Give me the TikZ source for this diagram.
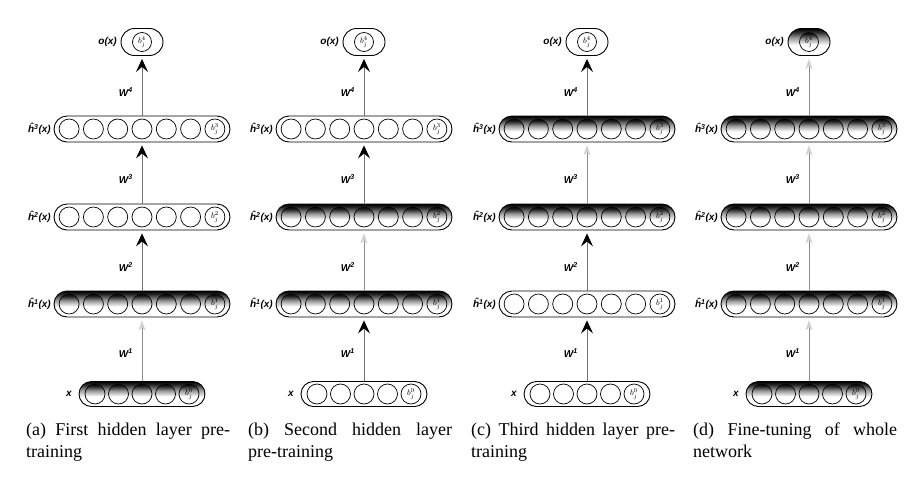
\documentclass[tikz,border=0pt]{standalone}
\usepackage{fontspec}
\setmainfont{Liberation Serif}
\newfontfamily\labfont{Liberation Sans}
\usetikzlibrary{shapes.misc,shapes.geometric,arrows.meta,calc}
\pgfdeclareverticalshading{dshade}{100bp}{color(0bp)=(white); color(25bp)=(white); color(44bp)=(white); color(58bp)=(black!40); color(69bp)=(black!85); color(75bp)=(black); color(100bp)=(black)}
\tikzset{
  layW/.style={rounded rectangle, draw, line width=0.9pt, minimum width=176pt, minimum height=26pt, inner sep=0pt, fill=white},
  layS/.style={layW, shading=dshade},
  xlayW/.style={layW, minimum width=126pt, minimum height=25pt},
  xlayS/.style={xlayW, shading=dshade},
  nodW/.style={circle, draw, line width=0.7pt, minimum size=20pt, inner sep=0pt, fill=white},
  nodS/.style={nodW, shading=dshade},
  outW/.style={rounded rectangle, draw, line width=0.9pt, minimum width=42pt, minimum height=27pt, inner sep=0pt, fill=white},
  outS/.style={outW, shading=dshade},
  arB/.style={draw=black!55, line width=0.7pt, shorten >=3pt, -{Stealth[length=13pt,width=12pt,inset=5pt,black]}},
  arG/.style={draw=black!45, line width=0.6pt, shorten >=3pt, -{Stealth[length=10pt,width=7pt,inset=3pt,black!18]}},
  lab/.style={font=\labfont\bfseries\itshape\fontsize{10}{12}\selectfont, inner sep=1pt},
  captext/.style={text width=204pt, align=justify, inner sep=0pt, font=\fontsize{18}{22}\selectfont}
}
\newcommand\bias[1]{{\fontsize{8.5}{8.5}\selectfont$b^{#1}_{j}$}}
\newcommand\setpanel[9]{\tikzset{sO/.style=out#1, uO/.style=nod#1,
  sH3/.style=lay#2, uH3/.style=nod#2, sH2/.style=lay#3, uH2/.style=nod#3,
  sH1/.style=lay#4, uH1/.style=nod#4, sX/.style=xlay#5, uX/.style=nod#5,
  aW4/.style=ar#6, aW3/.style=ar#7, aW2/.style=ar#8, aW1/.style=ar#9}}
% layer: name, cx, y, n, spacing, capsule style, unit style, bias text
\newcommand\mklayer[8]{%
  \node[#6] (#1) at (#2,#3) {};
  \foreach \i in {1,...,#4}{\node[#7] (#1-\i) at ({#2+(\i-(#4+1)/2)*#5},#3) {\ifnum\i=#4 #8\fi};}}
\newcommand\mkpanel[2]{% prefix, cx
  \node[sO] (#1-o) at (#2,42) {};
  \node[uO, minimum size=19pt] (#1-ob) at (#1-o) {\bias{4}};
  \mklayer{#1-h3}{#2}{129}{7}{24.3}{sH3}{uH3}{\bias{3}}
  \mklayer{#1-h2}{#2}{217}{7}{24.3}{sH2}{uH2}{\bias{2}}
  \mklayer{#1-h1}{#2}{304}{7}{24.3}{sH1}{uH1}{\bias{1}}
  \mklayer{#1-x}{#2}{394}{5}{23.5}{sX}{uX}{\bias{0}}
  \node[lab, anchor=east] (#1-lo) at (#2-24,42) {o(x)};
  \node[lab, anchor=east] (#1-l3) at (#2-90,129) {ĥ\textsuperscript{3}(x)};
  \node[lab, anchor=east] (#1-l2) at (#2-90,217) {ĥ\textsuperscript{2}(x)};
  \node[lab, anchor=east] (#1-l1) at (#2-90,304) {ĥ\textsuperscript{1}(x)};
  \node[lab, anchor=east] (#1-lx) at (#2-69,394) {x};
  \draw[aW4] (#1-h3.north) -- (#1-o.south);
  \draw[aW3] (#1-h2.north) -- (#1-h3.south);
  \draw[aW2] (#1-h1.north) -- (#1-h2.south);
  \draw[aW1] (#1-x.north) -- (#1-h1.south);
  \node[lab, anchor=east] (#1-w4) at (#2-8,92) {W\textsuperscript{4}};
  \node[lab, anchor=east] (#1-w3) at (#2-8,179) {W\textsuperscript{3}};
  \node[lab, anchor=east] (#1-w2) at (#2-8,267) {W\textsuperscript{2}};
  \node[lab, anchor=east] (#1-w1) at (#2-8,353) {W\textsuperscript{1}};
}
\begin{document}
\begin{tikzpicture}[x=1pt,y=-1pt]
\fill[white] (0,0) rectangle (914,477);
\useasboundingbox (0,0) rectangle (914,477);
\setpanel{W}{W}{W}{S}{S}{B}{B}{B}{G}
\mkpanel{a}{142}
\setpanel{W}{W}{S}{S}{W}{B}{B}{G}{B}
\mkpanel{b}{364}
\setpanel{W}{S}{S}{W}{W}{B}{G}{B}{B}
\mkpanel{c}{587}
\setpanel{S}{S}{S}{S}{S}{G}{G}{G}{G}
\mkpanel{d}{809}
\node[captext, anchor=north west] (a-cap) at (26,423) {(a) First hidden layer pre-\linebreak training};
\node[captext, anchor=north west] (b-cap) at (248,423) {(b) Second hidden layer\linebreak pre-training};
\node[captext, anchor=north west] (c-cap) at (471,423) {(c) Third hidden layer pre-\linebreak training};
\node[captext, anchor=north west] (d-cap) at (693,423) {(d) Fine-tuning of whole\linebreak network};
\end{tikzpicture}
\end{document}
